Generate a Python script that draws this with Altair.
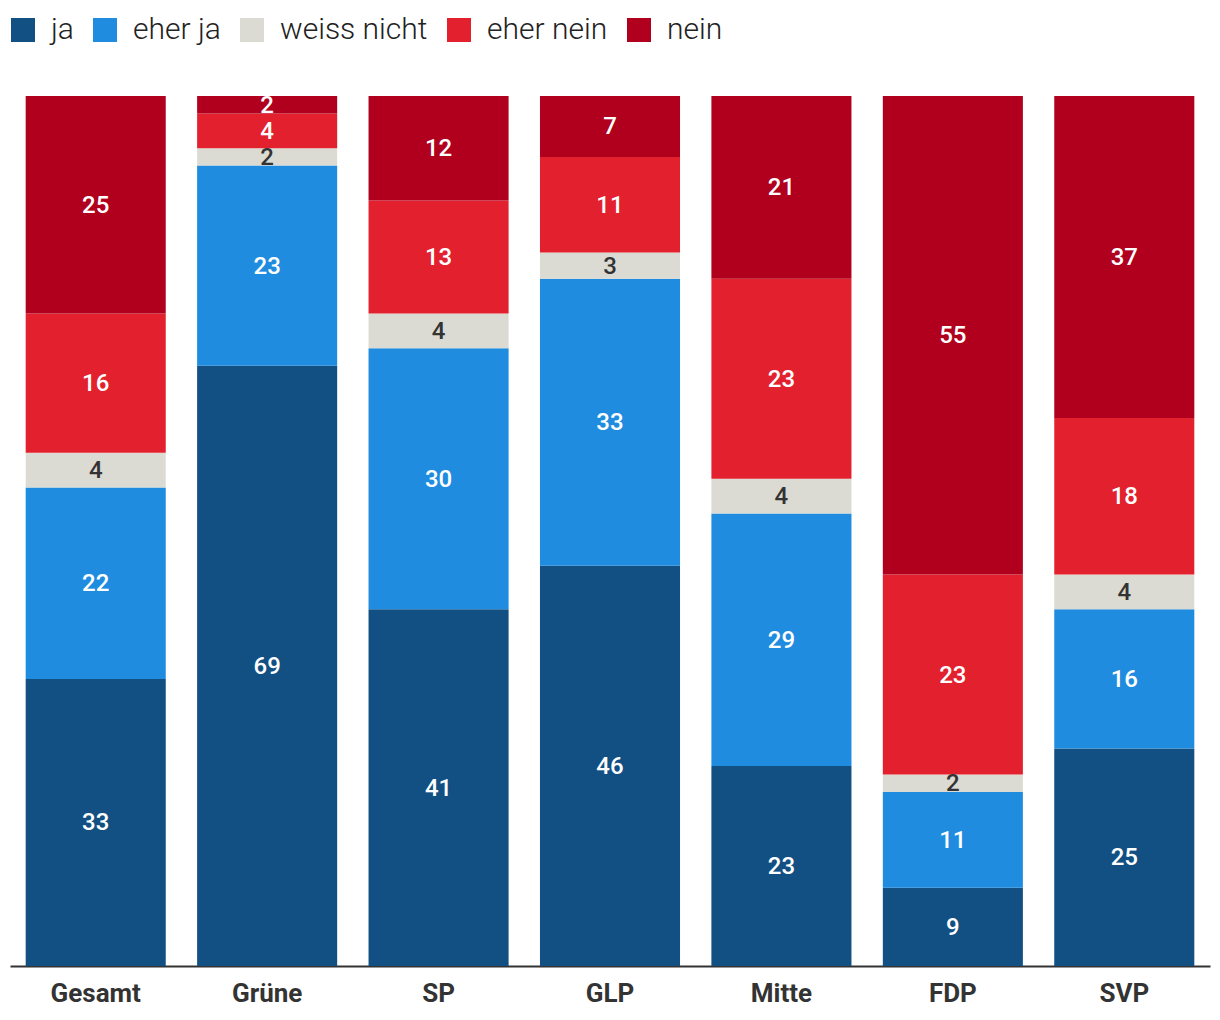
import altair as alt
import pandas as pd

parties = ["Gesamt", "Grüne", "SP", "GLP", "Mitte", "FDP", "SVP"]
answers = ["ja", "eher ja", "weiss nicht", "eher nein", "nein"]
colors = ["#124f82", "#1f8ce0", "#dcdbd3", "#e3202d", "#b0001e"]

ja = [33, 69, 41, 46, 23, 9, 25]
eher_ja = [22, 23, 30, 33, 29, 11, 16]
weiss_nicht = [4, 2, 4, 3, 4, 2, 4]
eher_nein = [16, 4, 13, 11, 23, 23, 18]
nein = [25, 2, 12, 7, 21, 55, 37]

series = [ja, eher_ja, weiss_nicht, eher_nein, nein]
rows = []
for ai, (ans, vals) in enumerate(zip(answers, series)):
    for p, v in zip(parties, vals):
        rows.append({"party": p, "answer": ans, "value": v, "order": ai,
                     "dark": ans == "weiss nicht"})
df = pd.DataFrame(rows)

FONT = "Roboto"

base = alt.Chart(df).encode(
    x=alt.X("party:N", sort=parties,
            scale=alt.Scale(paddingInner=0.183, paddingOuter=0.0915),
            axis=alt.Axis(title=None, labelAngle=0, labelFont=FONT, labelFontSize=26,
                          labelFontWeight="bold", labelColor="#333333", labelPadding=14,
                          ticks=False, domainColor="#333333", domainWidth=2)),
)

bars = base.mark_bar().encode(
    y=alt.Y("value:Q", stack="zero", scale=alt.Scale(domain=[0, 100], nice=False),
            axis=None),
    color=alt.Color("answer:N", sort=answers,
                    scale=alt.Scale(domain=answers, range=colors),
                    legend=alt.Legend(title=None, orient="none", direction="horizontal",
                                      legendX=-2, legendY=-81, padding=0,
                                      symbolType="square",
                                      symbolSize=576, symbolStrokeWidth=0,
                                      symbolOpacity=1,
                                      labelFont=FONT, labelFontSize=30, labelFontWeight=300,
                                      labelColor="#222222", labelOffset=13,
                                      columnPadding=16)),
    order=alt.Order("order:Q", sort="ascending"),
)

labels = base.transform_stack(
    stack="value", groupby=["party"], as_=["y0", "y1"],
    sort=[alt.SortField("order", order="ascending")]
).transform_calculate(
    mid="(datum.y0 + datum.y1) / 2"
).mark_text(font=FONT, fontSize=24, fontWeight=500, baseline="middle", dy=1).encode(
    y=alt.Y("mid:Q", scale=alt.Scale(domain=[0, 100], nice=False), axis=None),
    text=alt.Text("value:Q"),
    color=alt.condition("datum.dark", alt.value("#333333"), alt.value("white")),
)

chart = alt.layer(bars, labels).properties(
    width=1200, height=870,
    padding={"left": 2, "top": 88, "right": 2, "bottom": 50},
    autosize="none",
).configure_view(strokeWidth=0, stroke="transparent")

chart.save("out.html", embed_options={"renderer": "svg", "actions": False})
